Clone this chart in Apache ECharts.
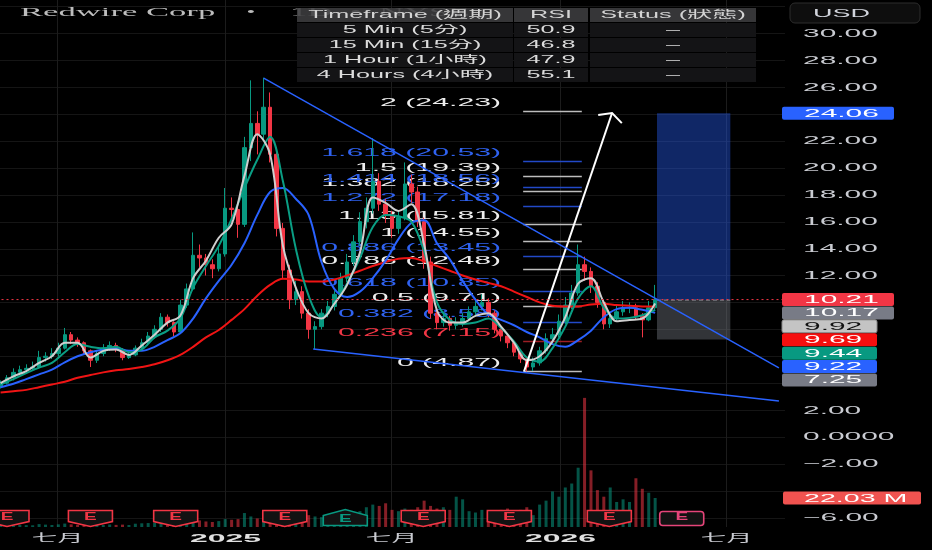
<!DOCTYPE html>
<html><head><meta charset="utf-8">
<script src="https://cdn.jsdelivr.net/npm/echarts@6/dist/echarts.min.js"></script>
<style>html,body{margin:0;padding:0;background:#000;}#c{width:932px;height:550px;}</style>
</head><body><div id="c"></div>
<script>
// ---------- data ----------
const weekStart = '2024-05-01';
// weekly candles: [open, close, low, high]
const ohlc = [
[3.8,4.0,3.6,4.2],[4.0,4.4,3.9,4.6],[4.4,4.8,4.2,5.1],[4.8,5.0,4.6,5.3],[5.0,5.1,4.8,5.4],
[5.1,5.2,4.9,5.6],[5.2,5.9,5.1,6.4],[5.9,6.0,5.6,6.3],[6.0,6.2,5.8,6.6],[6.2,6.6,6.0,7.0],
[6.6,7.6,6.5,8.1],[7.6,7.2,6.9,7.8],[7.2,7.0,6.7,7.4],[7.0,6.4,6.1,7.1],[6.4,5.7,5.2,6.5],
[5.7,6.2,5.5,6.4],[6.2,6.6,6.0,6.9],[6.6,6.8,6.4,7.1],[6.8,6.5,6.3,7.0],[6.5,5.9,5.7,6.6],
[5.9,6.1,5.8,6.3],[6.1,6.6,6.0,6.8],[6.6,7.0,6.4,7.3],[7.0,7.5,6.8,7.8],[7.5,8.0,7.3,8.3],
[8.0,8.9,7.8,9.2],[8.9,8.5,8.2,9.1],[8.5,7.8,7.5,8.6],[7.8,9.8,7.7,10.2],[9.8,11.0,9.6,11.4],
[11.0,13.5,10.9,15.2],[13.5,13.3,12.6,14.3],[13.3,12.8,12.0,13.6],[12.8,12.5,11.8,13.2],[12.5,13.6,12.3,14.2],
[13.6,17.0,13.4,18.5],[17.0,16.9,16.0,17.8],[16.9,15.8,14.8,17.2],[15.8,21.5,15.6,22.3],[21.5,23.3,20.5,26.5],
[23.3,22.5,21.0,24.2],[22.5,24.5,22.0,26.7],[24.5,21.0,20.4,25.6],[21.0,15.5,14.9,21.5],[15.5,12.4,11.8,15.9],
[12.4,10.2,9.5,12.8],[10.2,10.8,9.8,11.6],[10.8,9.2,8.8,11.2],[9.2,8.0,7.3,9.5],[8.0,8.2,6.5,8.6],
[8.2,9.2,8.0,9.5],[9.2,9.7,8.9,10.1],[9.7,10.6,9.4,10.9],[10.6,11.8,10.4,12.2],[11.8,13.0,11.5,13.6],
[13.0,14.5,12.7,15.0],[14.5,16.0,14.2,16.7],[16.0,17.0,15.5,17.8],[17.0,19.0,16.6,22.2],[19.0,17.3,16.8,19.6],
[17.3,16.5,15.9,17.7],[16.5,15.5,14.8,16.8],[15.5,16.3,15.1,16.8],[16.3,18.8,16.1,20.4],[18.8,18.2,17.4,19.5],
[18.2,16.0,15.6,18.6],[16.0,13.0,12.5,16.3],[13.0,9.2,8.8,13.4],[9.2,8.5,8.0,9.6],[8.5,8.8,8.2,9.3],
[8.8,8.3,7.9,9.0],[8.3,8.5,8.0,8.9],[8.5,8.8,8.2,9.2],[8.8,9.3,8.6,9.7],[9.3,9.7,9.0,10.3],
[9.7,10.0,9.4,10.6],[10.0,9.2,8.9,10.3],[9.2,8.0,7.7,9.4],[8.0,7.5,7.1,8.2],[7.5,7.0,6.6,7.7],
[7.0,6.3,6.0,7.1],[6.3,5.8,5.5,6.5],[5.8,5.2,4.87,5.9],[5.2,5.5,4.9,5.9],[5.5,6.4,5.3,6.7],
[6.4,7.3,6.2,7.7],[7.3,7.6,7.0,8.1],[7.6,8.6,7.4,9.1],[8.6,9.8,8.4,10.4],[9.8,10.7,9.5,11.3],
[10.7,12.8,10.5,14.3],[12.8,12.3,11.6,13.4],[12.3,11.2,10.7,12.6],[11.2,10.0,9.6,11.5],[10.0,8.4,8.0,10.2],
[8.4,8.8,8.1,9.3],[8.8,9.3,8.6,9.8],[9.3,9.6,9.0,10.1],[9.6,9.6,9.2,10.0],[9.6,9.0,8.7,9.9],
[9.0,8.7,7.4,9.2],[8.7,9.6,8.6,10.1],[9.6,10.21,9.4,11.3]
];
// volume, millions
const volumeM = [
1.5,1.8,1.2,1.6,1.4,1.3,2.2,1.8,1.5,2.0,2.6,2.0,1.6,1.8,2.2,1.7,1.5,1.9,1.6,1.8,1.5,
2.5,2.8,3.0,3.2,4.0,3.5,3.0,4.5,5.0,6.5,5.0,4.2,3.8,4.5,6.0,5.5,
6.0,10.6,8.0,6.5,7.0,7.5,6.0,5.5,5.0,6.0,
7.0,9.0,8.0,7.5,8.5,9.0,10.0,11.0,10.0,12.0,
15.0,17.0,16.0,18.0,13.0,12.0,14.0,13.0,15.0,20.0,
16.0,14.0,15.0,13.0,23.0,21.0,12.0,11.0,13.0,12.0,
11.0,13.0,14.0,12.0,13.0,15.0,9.0,17.0,20.0,27.0,
23.0,30.0,33.0,45.0,98.0,43.0,28.0,23.0,30.0,19.0,
21.0,19.0,37.0,29.0,26.0,22.03
];
// moving averages, sampled every 2 weeks from weekStart
const maStepWeeks = 2;
const maGray = [4.0,4.5,4.9,5.5,6.0,7.0,7.0,5.9,6.4,6.5,6.1,6.8,7.6,8.5,9.0,11.8,13.1,14.8,15.8,19.4,22.5,21.0,14.2,11.1,9.2,8.8,9.9,11.3,13.7,17.8,17.4,16.8,17.3,14.3,9.4,8.5,8.5,9.0,9.2,8.2,7.0,5.7,6.0,7.1,8.9,11.4,11.8,10.0,8.6,8.7,8.8,9.92];
const maGreen = [3.9,4.3,4.75,5.15,5.5,6.3,6.9,6.7,6.6,6.7,6.3,6.5,7.4,7.9,8.8,11.1,12.7,14.2,16.2,18.5,20.6,22.3,19.0,14.0,10.5,8.9,9.9,11.4,13.3,15.6,16.5,16.4,16.0,13.8,10.0,8.7,8.4,8.5,8.8,8.1,7.1,5.9,5.6,6.6,8.2,10.3,11.2,9.6,8.8,8.85,9.05,9.44];
const maBlue = [3.7,3.95,4.3,4.65,5.0,5.55,6.0,6.3,6.5,6.6,6.4,6.4,6.7,7.2,7.7,8.8,10.3,11.6,12.8,14.4,16.5,18.2,18.5,17.7,16.5,13.0,11.0,10.4,10.8,11.8,13.1,14.7,15.9,16.1,14.4,13.2,11.6,10.2,9.1,8.7,8.3,7.8,7.4,6.9,6.7,7.2,7.9,8.9,9.5,9.6,9.45,9.22];
const maRed = [3.3,3.4,3.5,3.7,3.9,4.1,4.4,4.6,4.8,4.95,5.05,5.2,5.4,5.7,6.1,6.7,7.4,7.95,8.7,9.5,10.5,11.3,11.75,11.7,11.55,11.55,11.7,12.0,12.35,12.7,13.0,13.25,13.3,13.05,12.7,12.35,12.0,11.7,11.45,11.2,10.8,10.4,10.0,9.75,9.7,9.7,9.85,9.9,9.8,9.75,9.7,9.69];

const lastPrice = 10.21;
const upperTrend = [['2025-02-12', 26.67], ['2026-08-28', 5.13]];
const lowerTrend = [['2025-04-07', 6.54], ['2026-08-28', 2.67]];
const arrowPath = [['2025-11-23', 4.87], ['2026-02-27', 24.07]];
const fibSpan = ['2025-11-22', '2026-01-25'];
const fibRatios = ['0','0.236','0.382','0.5','0.618','0.786','0.886','1','1.13','1.272','1.382','1.414','1.5','1.618','2'];
const fibPrices = [4.87,7.15,8.58,9.71,10.85,12.48,13.45,14.55,15.81,17.18,18.25,18.56,19.39,20.53,24.23];
const positionSpan = ['2026-04-17', '2026-07-06'];
const positionLevels = [24.06, 10.17, 7.25]; // target, entry, stop
const earnDates = ['2024-05-08','2024-08-07','2024-11-08','2025-03-07','2025-05-12','2025-08-05','2025-11-07','2026-02-24','2026-05-14'];
const earnStatus = ['miss','miss','miss','miss','beat','miss','miss','miss','upcoming'];
const xTickDates = ['2024-07-01','2025-01-01','2025-07-01','2026-01-01','2026-07-01'];
const xTickLabels = ['七月','2025','七月','2026','七月'];
const yGridValues = [-6,-4,-2,0,2,4,6,8,10,12,14,16,18,20,22,24,26,28,30,32];
const yLabelValues = [30,28,26,22,20,18,16,14,12,2,0,-2,-6];
const tagValues = [24.06,10.21,10.17,9.92,9.69,9.44,9.22,7.25];
const volumeTag = 22.03;
const tableHeader = ['Timeframe (週期)','RSI','Status (狀態)'];
const tableRows = [
  ['5 Min (5分)','50.9','–'],
  ['15 Min (15分)','46.8','–'],
  ['1 Hour (1小時)','47.9','–'],
  ['4 Hours (4小時)','55.1','–']
];

// ---------- styles / layout ----------
const DAY = 864e5;
const t0 = Date.parse(weekStart);
const xMin = Date.parse('2024-05-02'), xMax = Date.parse('2026-09-02');
const yMin = -6.69, yMax = 32.47;
const FONT = '"Liberation Sans", "Noto Sans CJK TC", sans-serif';
const SX = 2.72;
const tagStyles = [
  {bg:'#2962ff', fg:'#ffffff', w:112},
  {bg:'#f23645', fg:'#ffffff', w:112},
  {bg:'#787b86', fg:'#ffffff', w:112},
  {bg:'#c4c4c4', fg:'#111111', w:95, border:'#8a8a8a'},
  {bg:'#f50f0f', fg:'#ffffff', w:95},
  {bg:'#089981', fg:'#ffffff', w:95},
  {bg:'#2962ff', fg:'#ffffff', w:95},
  {bg:'#787b86', fg:'#ffffff', w:95}
];
const fibBlue = ['0.382','0.618','0.886','1.272','1.414','1.618'];
function fibStyle(r){
  if (r === '0.236') return {line:'#9c1f25', text:'#f23645'};
  if (fibBlue.indexOf(r) >= 0) return {line:'#2249c8', text:'#2f62f0'};
  return {line:'#bdbdbd', text:'#eeeeee'};
}
function fmtY(v){
  if (v === 0) return '0.0000';
  return v < 0 ? '\u2212' + (-v).toFixed(2) : v.toFixed(2);
}
function txt(x, y, text, o){
  o = o || {};
  return {type:'text', x:x, y:y, scaleX:o.sx || SX, silent:true, z:o.z || 100,
    style:{text:text, fill:o.color || '#c9cbd1', font:o.font || ('11px ' + FONT),
      align:o.align || 'left', verticalAlign:o.va || 'middle',
      textAlign:o.align || 'left', textVerticalAlign:o.va || 'middle', opacity:o.opacity == null ? 1 : o.opacity}};
}

const candleData = ohlc.map((r,i) => [t0 + i*7*DAY, r[0], r[1], r[2], r[3]]);
const volData = volumeM.map((v,i) => ({value:[t0 + i*7*DAY, v],
  itemStyle:{color: ohlc[i][1] >= ohlc[i][0] ? 'rgba(8,153,129,0.55)' : 'rgba(242,54,69,0.55)'}}));
const maDate = k => t0 + k*maStepWeeks*7*DAY;
function maSeries(arr, color, z){
  return {type:'line', data:arr.map((v,k)=>[maDate(k), v]), smooth:0.35, symbol:'none', silent:true,
    lineStyle:{color:color, width:2}, z:z};
}

// ---------- graphic: title, table, USD ----------
const graphics = [];
graphics.push(txt(20, 13, 'Redwire Corp', {font:'12.5px "Liberation Serif", serif', color:'#bdbdbd', sx:2.77, z:50}));
graphics.push(txt(251, 13, '•', {font:'12.5px "Liberation Serif", serif', color:'#bdbdbd', sx:2.0, align:'center', z:50}));
graphics.push(txt(290, 13, '1D  •  NYSE', {font:'12.5px "Liberation Serif", serif', color:'#bdbdbd', sx:2.77, z:50}));
const colX = [297, 514, 590], colW = [216, 74, 166], rowY = [8, 23, 38, 53, 68], rowH = 14;
[tableHeader].concat(tableRows).forEach((row, r) => {
  row.forEach((cell, c) => {
    graphics.push({type:'rect', z:60, silent:true,
      shape:{x:colX[c], y:rowY[r], width:colW[c], height:rowH},
      style:{fill: r === 0 ? 'rgba(62,62,64,0.88)' : '#141416'}});
    graphics.push(txt(colX[c] + colW[c]/2, rowY[r] + rowH/2 + 0.5, cell,
      {font:'10.5px ' + FONT, sx:2.4, align:'center', color: r === 0 ? '#d4d4d4' : '#dcdcdc', z:61}));
  });
});
graphics.push({type:'rect', z:60, silent:true, shape:{x:790, y:3, width:130, height:20, r:5},
  style:{fill:'#0e0e0e', stroke:'#2c2c2c', lineWidth:1}});
graphics.push(txt(813, 13.5, 'USD', {sx:2.45, color:'#d1d4dc', z:61}));

// ---------- chart ----------
const chart = echarts.init(document.getElementById('c'), null, {width:932, height:550});
const option = {
  backgroundColor:'#000000',
  animation:false,
  grid:{left:0, right:147, top:0, bottom:23, outerBoundsMode:'none'},
  xAxis:{type:'time', min:xMin, max:xMax, show:false, splitLine:{show:false}},
  yAxis:[
    {type:'value', min:yMin, max:yMax, show:false, splitLine:{show:false}, position:'right'},
    {type:'value', min:0, max:400, show:false, splitLine:{show:false}}
  ],
  graphic:{elements:graphics},
  series:[
    // horizontal grid lines
    {type:'custom', name:'yGrid', z:0, silent:true, clip:false,
      data:yGridValues.map(v => [xMin, v]), encode:{x:0, y:1},
      renderItem:(params, api) => {
        const cs = params.coordSys;
        const y = Math.round(api.coord([xMin, api.value(1)])[1]) + 0.5;
        return {type:'line', shape:{x1:cs.x, y1:y, x2:cs.x + cs.width, y2:y}, style:{stroke:'#151515', lineWidth:1}};
      }},
    // vertical grid lines + x labels
    {type:'custom', name:'xTicks', z:0, silent:true, clip:false,
      data:xTickDates.map(d => [Date.parse(d), yMin]), encode:{x:0, y:1},
      renderItem:(params, api) => {
        const cs = params.coordSys;
        const x = Math.round(api.coord([api.value(0), yMin])[0]) + 0.5;
        const label = xTickLabels[params.dataIndex];
        const isYear = /^\d+$/.test(label);
        return {type:'group', children:[
          {type:'line', shape:{x1:x, y1:cs.y, x2:x, y2:cs.y + cs.height}, style:{stroke:'#1c1c1c', lineWidth:1}},
          txt(x, cs.y + cs.height + 12, label, {align:'center', sx: isYear ? 2.9 : 2.35,
            font: isYear ? ('bold 11px ' + FONT) : ('11px ' + FONT), color: isYear ? '#e0e0e0' : '#c9cbd1'})
        ]};
      }},
    // y labels
    {type:'custom', name:'yLabels', z:7, silent:true, clip:false,
      data:yLabelValues.map(v => [xMax, v]), encode:{x:0, y:1},
      renderItem:(params, api) => {
        const cs = params.coordSys;
        const v = api.value(1);
        const y = api.coord([xMax, v])[1];
        return txt(cs.x + cs.width + 18, y + 0.5, fmtY(v), {color:'#c9cbd1'});
      }},
    // volume
    {type:'bar', name:'Volume', yAxisIndex:1, data:volData, barWidth:3, z:1, silent:true},
    // position tool
    {type:'custom', name:'position', z:2, silent:true, clip:false,
      data:[[Date.parse(positionSpan[0]), positionLevels[0], Date.parse(positionSpan[1]), positionLevels[1], positionLevels[2]]],
      encode:{x:[0,2], y:[1,3,4]},
      renderItem:(params, api) => {
        const a = api.coord([api.value(0), api.value(1)]);
        const b = api.coord([api.value(2), api.value(3)]);
        const c = api.coord([api.value(2), api.value(4)]);
        return {type:'group', children:[
          {type:'rect', shape:{x:a[0], y:a[1], width:b[0]-a[0], height:b[1]-a[1]}, style:{fill:'rgba(41,98,255,0.40)'}},
          {type:'rect', shape:{x:a[0], y:b[1], width:b[0]-a[0], height:c[1]-b[1]}, style:{fill:'rgba(120,123,134,0.42)'}},
          {type:'line', shape:{x1:a[0], y1:b[1], x2:b[0], y2:b[1]}, style:{stroke:'#8a8d96', lineWidth:1, lineDash:[4,3]}}
        ]};
      }},
    // fibonacci
    {type:'custom', name:'fib', z:2, silent:true, clip:false,
      data:fibPrices.map((p,k) => [Date.parse(fibSpan[0]), p, k]), encode:{x:0, y:1},
      renderItem:(params, api) => {
        const p = api.value(1), k = api.value(2);
        const a = api.coord([Date.parse(fibSpan[0]), p]);
        const b = api.coord([Date.parse(fibSpan[1]), p]);
        const st = fibStyle(fibRatios[k]);
        const y = Math.round(a[1]) + 0.5;
        return {type:'group', children:[
          {type:'line', shape:{x1:a[0], y1:y, x2:b[0], y2:y}, style:{stroke:st.line, lineWidth:1.5}},
          txt(a[0] - 22, y - 3, fibRatios[k] + ' (' + p.toFixed(2) + ')', {align:'right', va:'bottom', color:st.text, sx:2.75})
        ]};
      }},
    // candles
    {type:'candlestick', name:'RDW', data:candleData, barWidth:4, z:3, silent:true,
      itemStyle:{color:'#089981', color0:'#f23645', borderColor:'#089981', borderColor0:'#f23645', borderWidth:1}},
    maSeries(maRed, '#f01414', 4),
    maSeries(maBlue, '#2962ff', 4),
    maSeries(maGreen, '#0a9e84', 4),
    maSeries(maGray, '#cfcfcf', 4),
    // last price dotted line
    {type:'line', name:'last', data:[[xMin, lastPrice], [xMax, lastPrice]], symbol:'none', silent:true, z:5,
      lineStyle:{color:'#f23645', width:1, type:[2,3]}},
    // trend lines
    {type:'line', name:'upperTrend', data:upperTrend.map(d => [Date.parse(d[0]), d[1]]), symbol:'none', silent:true, z:5,
      lineStyle:{color:'#2962ff', width:1.5}},
    {type:'line', name:'lowerTrend', data:lowerTrend.map(d => [Date.parse(d[0]), d[1]]), symbol:'none', silent:true, z:5,
      lineStyle:{color:'#2962ff', width:1.5}},
    // arrow
    {type:'custom', name:'arrow', z:5, silent:true, clip:false,
      data:[[Date.parse(arrowPath[0][0]), arrowPath[0][1], Date.parse(arrowPath[1][0]), arrowPath[1][1]]],
      encode:{x:[0,2], y:[1,3]},
      renderItem:(params, api) => {
        const p1 = api.coord([api.value(0), api.value(1)]);
        const p2 = api.coord([api.value(2), api.value(3)]);
        const ang = Math.atan2(p1[1]-p2[1], p1[0]-p2[0]);
        const L = 14, w = 1.1;
        const l = [p2[0] + L*Math.cos(ang + w), p2[1] + L*Math.sin(ang + w)];
        const r = [p2[0] + L*Math.cos(ang - w), p2[1] + L*Math.sin(ang - w)];
        return {type:'group', children:[
          {type:'line', shape:{x1:p1[0], y1:p1[1], x2:p2[0], y2:p2[1]}, style:{stroke:'#ffffff', lineWidth:2}},
          {type:'polyline', shape:{points:[l, p2, r]}, style:{stroke:'#ffffff', lineWidth:2, fill:null}}
        ]};
      }},
    // earnings badges
    {type:'custom', name:'earnings', z:6, silent:true, clip:false,
      data:earnDates.map(d => [Date.parse(d), yMin]), encode:{x:0, y:1},
      renderItem:(params, api) => {
        const cs = params.coordSys;
        const cx = api.coord([api.value(0), yMin])[0];
        const yb = cs.y + cs.height - 0.5;
        const st = earnStatus[params.dataIndex];
        const col = st === 'beat' ? '#089981' : (st === 'upcoming' ? '#e5457a' : '#f23645');
        let shape;
        if (st === 'upcoming') {
          shape = {type:'rect', shape:{x:cx-22, y:yb-15, width:44, height:14, r:3}, style:{fill:'#121212', stroke:col, lineWidth:1.6}};
        } else if (st === 'beat') {
          shape = {type:'polygon', shape:{points:[[cx-22,yb-11],[cx,yb-17],[cx+22,yb-11],[cx+22,yb-1],[cx-22,yb-1]]}, style:{fill:'#121212', stroke:col, lineWidth:1.6}};
        } else {
          shape = {type:'polygon', shape:{points:[[cx-22,yb-16],[cx+22,yb-16],[cx+22,yb-5],[cx,yb],[cx-22,yb-5]]}, style:{fill:'#121212', stroke:col, lineWidth:1.6}};
        }
        return {type:'group', children:[shape,
          txt(cx, st === 'beat' ? yb-7 : yb-9, 'E', {align:'center', sx:1.9, color:col, font:'bold 10px ' + FONT})]};
      }},
    // price tags
    {type:'custom', name:'tags', z:8, silent:true, clip:false,
      data:tagValues.map(v => [xMax, v]), encode:{x:0, y:1},
      renderItem:(params, api) => {
        const cs = params.coordSys;
        const ys = tagValues.map(v => api.coord([xMax, v])[1]);
        for (let k = 1; k < ys.length; k++) ys[k] = Math.max(ys[k], ys[k-1] + 13.4);
        const k = params.dataIndex, st = tagStyles[k];
        const x0 = cs.x + cs.width - 3;
        return {type:'group', children:[
          {type:'rect', shape:{x:x0, y:ys[k]-6.5, width:st.w, height:13, r:2},
            style:{fill:st.bg, stroke:st.border || null, lineWidth:1}},
          txt(cs.x + cs.width + 19, ys[k] + 0.5, tagValues[k].toFixed(2), {color:st.fg})
        ]};
      }},
    // volume tag
    {type:'custom', name:'volTag', z:8, silent:true, clip:false, yAxisIndex:1,
      data:[[xMax, volumeTag]], encode:{x:0, y:1},
      renderItem:(params, api) => {
        const cs = params.coordSys;
        const y = api.coord([xMax, api.value(1)])[1];
        return {type:'group', children:[
          {type:'rect', shape:{x:cs.x + cs.width - 2, y:y-6.5, width:138, height:13, r:2}, style:{fill:'#f05350'}},
          txt(cs.x + cs.width + 19, y + 0.5, volumeTag.toFixed(2) + ' M', {color:'#ffffff', sx:2.6})
        ]};
      }}
  ]
};
chart.setOption(option);
</script>
</body></html>
